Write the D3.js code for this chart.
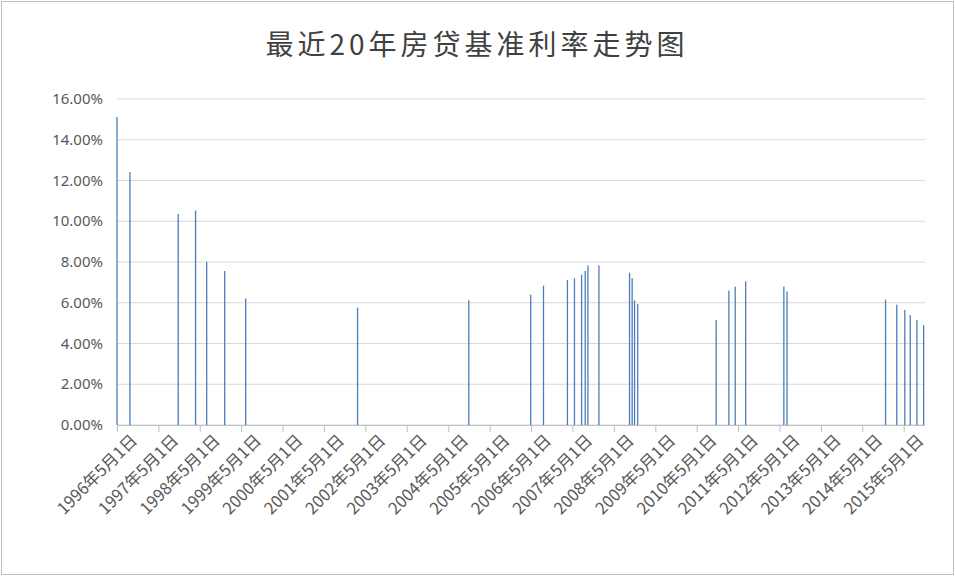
<!DOCTYPE html><html><head><meta charset="utf-8"><script src="https://cdn.jsdelivr.net/npm/d3@7"></script>
<style>body{margin:0;background:#fff}</style></head><body><svg id="c" width="955" height="576"></svg>
<script>
const dates=["1996-05-01","1996-08-23","1997-10-23","1998-03-25","1998-07-01","1998-12-07","1999-06-10","2002-02-21","2004-10-29","2006-04-28","2006-08-19","2007-03-18","2007-05-19","2007-07-21","2007-08-22","2007-09-15","2007-12-21","2008-09-16","2008-10-09","2008-10-30","2008-11-27","2010-10-20","2011-02-09","2011-04-06","2011-07-07","2012-06-08","2012-07-06","2014-11-22","2015-03-01","2015-05-11","2015-06-28","2015-08-26","2015-10-24"];
const rates=[15.12,12.42,10.35,10.53,8.01,7.56,6.21,5.76,6.12,6.39,6.84,7.11,7.20,7.38,7.56,7.83,7.83,7.47,7.20,6.12,5.94,5.15,6.60,6.80,7.05,6.80,6.55,6.15,5.90,5.65,5.40,5.15,4.90];
const yTicks=[0,2,4,6,8,10,12,14,16];
const years=d3.range(1996,2016);
const title="最近20年房贷基准利率走势图";
const svg=d3.select("#c"),p=d3.timeParse("%Y-%m-%d");
svg.append("rect").attr("x",1.5).attr("y",1.5).attr("width",952).attr("height",573).attr("fill","#fff").attr("stroke","#bfbfbf");
const L=117,R=925,T=99,B=425;
const x=d3.scaleTime().domain([p("1996-05-01"),p("2015-11-05")]).range([L,R]);
const y=d3.scaleLinear().domain([0,16]).range([B,T]);
svg.append("g").selectAll("line").data(yTicks).join("line").attr("x1",L).attr("x2",R).attr("y1",d=>y(d)).attr("y2",d=>y(d)).attr("stroke","#d9d9d9");
svg.append("g").selectAll("text").data(yTicks).join("text").attr("x",L-14).attr("y",d=>y(d)+5).attr("text-anchor","end").attr("font-family","Noto Sans, sans-serif").attr("font-size",15).attr("fill","#595959").text(d=>d.toFixed(2)+"%");
svg.append("g").selectAll("line").data(dates).join("line").attr("x1",d=>x(p(d))).attr("x2",d=>x(p(d))).attr("y1",B).attr("y2",(d,i)=>y(rates[i])).attr("stroke","#4a7ebb").attr("stroke-width",1.3);
const ax=svg.append("g").attr("transform",`translate(0,${B})`).call(d3.axisBottom(x).tickValues(years.map(v=>p(v+"-05-01"))).tickSize(7).tickFormat(d=>d.getFullYear()+"年5月1日"));
ax.select(".domain").attr("stroke","#bfbfbf").attr("d",`M${L},0.5H${R}`);
ax.selectAll(".tick line").attr("stroke","#bfbfbf");
ax.selectAll("text").attr("font-family","Noto Sans CJK SC, sans-serif").attr("font-size",16.5).attr("fill","#595959").attr("text-anchor","end").attr("transform","translate(10,6) rotate(-45)").attr("dy","0.3em");
svg.append("text").attr("x",477).attr("y",55).attr("text-anchor","middle").attr("font-family","Noto Sans CJK SC, sans-serif").attr("font-size",28).attr("letter-spacing",4).attr("fill","#404040").text(title);
</script></body></html>
